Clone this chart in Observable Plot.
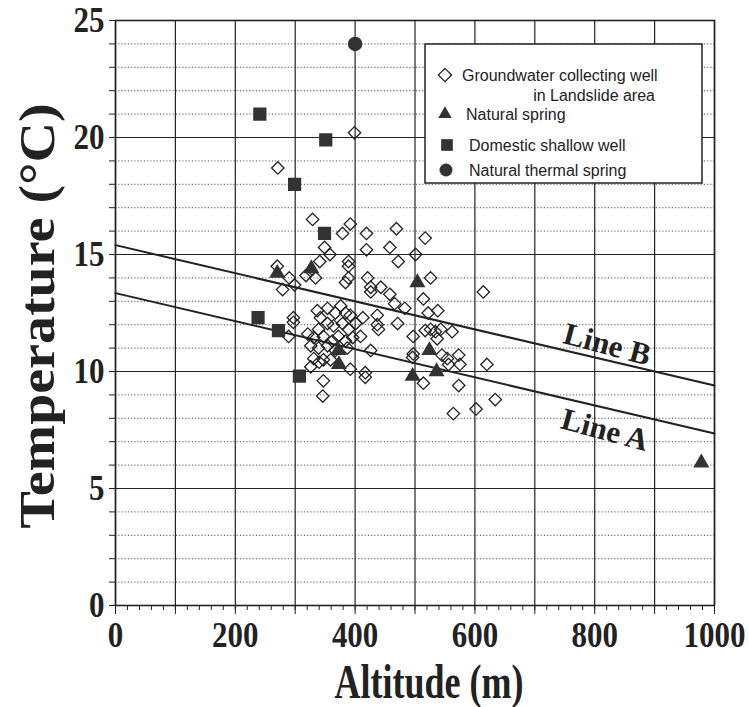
<!DOCTYPE html>
<html>
<head>
<meta charset="utf-8">
<script src="https://cdn.jsdelivr.net/npm/d3@7"></script>
<script src="https://cdn.jsdelivr.net/npm/@observablehq/plot@0.6"></script>
<style>
  html, body { margin: 0; padding: 0; background: white; }
  #chart { width: 749px; height: 707px; }
</style>
</head>
<body>
<div id="chart"></div>
<script>
// ---- Data (altitude in m, temperature in °C) ----
const wellAlt = [399,271,329,392,379,419,469,517,349,358,419,458,472,501,341,389,389,270,326,290,318,334,279,299,389,384,421,426,426,443,458,466,483,514,522,538,526,614,297,297,289,
  337,342,354,367,376,384,392,339,354,364,379,389,401,413,321,331,347,362,372,384,396,409,326,339,354,367,387,426,331,347,359,392,417,417,347,346,
  437,437,439,471,497,517,526,534,543,562,537,496,497,545,554,573,556,575,620,514,573,634,602,564,326,340];
const wellTemp = [20.2,18.7,16.5,16.3,15.9,15.9,16.1,15.7,15.3,15.0,15.2,15.3,14.7,15.0,14.7,14.7,14.5,14.5,14.3,14.0,14.1,14.0,13.5,13.7,14.0,13.8,14.0,13.6,13.4,13.6,13.3,12.9,12.7,13.1,12.5,12.6,14.0,13.4,12.3,12.1,11.5,
  12.6,12.3,12.7,12.5,12.8,12.5,12.4,11.8,12.05,11.95,12.05,11.8,12.05,12.3,11.6,11.45,11.5,11.3,11.5,11.3,11.45,11.5,11.1,11.0,11.1,10.9,11.0,10.9,10.55,10.5,10.5,10.1,9.95,9.75,9.6,8.95,
  12.4,12.0,11.8,12.05,11.5,11.75,11.8,11.7,11.8,11.7,11.4,10.6,10.75,10.7,10.55,10.7,10.3,10.3,10.3,9.5,9.4,8.8,8.4,8.2,10.2,10.4];

const springAlt  = [270,327,372,373,504,524,496,536,978];
const springTemp = [14.2,14.4,10.9,10.3,13.8,10.9,9.8,10.0,6.1];

const shallowAlt  = [241,351,299,349,238,272,307];
const shallowTemp = [21.0,19.9,18.0,15.9,12.3,11.75,9.8];

const thermalAlt  = [400];
const thermalTemp = [24.0];

const lineX  = [0, 1000];
const lineAY = [13.35, 7.35];
const lineBY = [15.4, 9.4];

const lineLabels = ["Line B", "Line A"];
const lineLabelX = [821, 817];
const lineLabelY = [11.15, 7.5];

const xTicks = [0, 200, 400, 600, 800, 1000];
const yTicks = [0, 5, 10, 15, 20, 25];

const xTitle = "Altitude (m)";
const yTitle = "Temperature (°C)";
const legendLabels = ["Groundwater collecting well", "in Landslide area", "Natural spring", "Domestic shallow well", "Natural thermal spring"];

// ---- Chart ----
const serif = "'Liberation Serif', 'DejaVu Serif', serif";
const ink = "#222";
const xGrid = d3.range(0, 1001, 100);
const xMinor = d3.range(0, 1001, 20);
const yMinor = d3.range(0, 26, 1);

const chart = Plot.plot({
  width: 749,
  height: 707,
  marginLeft: 115,
  marginRight: 35,
  marginTop: 20,
  marginBottom: 102,
  x: { domain: [0, 1000] },
  y: { domain: [0, 25] },
  style: { background: "white", color: ink },
  marks: [
    Plot.gridY(yMinor, { stroke: "#555", strokeOpacity: 1, strokeWidth: 1, strokeDasharray: "1.2,2" }),
    Plot.gridY(yTicks, { stroke: ink, strokeOpacity: 1, strokeWidth: 1.2 }),
    Plot.gridX(xGrid, { stroke: ink, strokeOpacity: 1, strokeWidth: 1.2 }),
    Plot.frame({ stroke: ink, strokeWidth: 1.6 }),
    Plot.axisY(yMinor, { tickSize: 6, tickFormat: () => "", label: null, stroke: ink }),
    Plot.axisY(yTicks, { tickSize: 6, tickPadding: 5, label: null, tickFormat: d => String(d), fontSize: 36, fontWeight: "bold", fontFamily: serif, fill: ink, stroke: ink }),
    Plot.axisX(xMinor, { tickSize: 5, tickFormat: () => "", label: null, stroke: ink }),
    Plot.axisX(xGrid, { tickSize: 9, tickFormat: () => "", label: null, stroke: ink }),
    Plot.axisX(xTicks, { tickSize: 0, tickPadding: 16, label: null, tickFormat: d => String(d), fontSize: 36, fontWeight: "bold", fontFamily: serif, fill: ink }),
    Plot.line(lineX, { x: lineX, y: lineAY, stroke: ink, strokeWidth: 2 }),
    Plot.line(lineX, { x: lineX, y: lineBY, stroke: ink, strokeWidth: 2 }),
    Plot.text(lineLabels, { x: lineLabelX, y: lineLabelY, text: d => d, rotate: 15, fontSize: 31, fontWeight: "bold", fontFamily: serif, fill: ink }),
    Plot.dot(wellAlt, { x: wellAlt, y: wellTemp, symbol: "diamond2", r: 5.6, stroke: ink, strokeWidth: 1.3, fill: "none" }),
    Plot.dot(springAlt, { x: springAlt, y: springTemp, symbol: "triangle", r: 5, fill: "#333", stroke: "#333" }),
    Plot.dot(shallowAlt, { x: shallowAlt, y: shallowTemp, symbol: "square", r: 6.6, fill: "#333", stroke: "#333" }),
    Plot.dot(thermalAlt, { x: thermalAlt, y: thermalTemp, symbol: "circle", r: 6.5, fill: "#333", stroke: "#333" }),
    Plot.text([xTitle], { frameAnchor: "bottom", dx: 14, dy: 92, fontSize: 48, fontWeight: "bold", fontFamily: serif, fill: ink }),
    Plot.text([yTitle], { frameAnchor: "left", textAnchor: "middle", dx: -78, dy: 3, rotate: -90, fontSize: 56, fontWeight: "bold", fontFamily: serif, fill: ink })
  ]
});

document.getElementById("chart").appendChild(chart);

// Condense the scanned-looking serif text, like the reference (wrap in a scaled group)
function condense(el, sx, sy, anchor) {
  const g = document.createElementNS("http://www.w3.org/2000/svg", "g");
  el.parentNode.insertBefore(g, el);
  g.appendChild(el);
  const bb = g.getBBox();
  const ax = anchor === "right" ? bb.x + bb.width : bb.x + bb.width / 2;
  const ay = bb.y + bb.height / 2;
  g.setAttribute("transform", `translate(${ax},${ay}) scale(${sx},${sy}) translate(${-ax},${-ay})`);
}
const svg = d3.select(chart);
const tickStrings = new Set([...xTicks, ...yTicks].map(String));
const allTexts = svg.selectAll("text").nodes();
allTexts.forEach(el => {
  const s = el.textContent;
  if (s === xTitle) condense(el, 0.75, 1);
  else if (s === yTitle) condense(el, 0.9, 1);
  else if (tickStrings.has(s)) {
    const isY = el.closest("g").getAttribute("aria-label") === "y-axis tick label";
    condense(el, 0.86, 1, isY ? "right" : "center");
  }
});

// ---- Legend box drawn inside the SVG ----
const lg = svg.append("g").attr("font-family", "'Liberation Sans', Arial, sans-serif").attr("font-size", 16).attr("fill", ink);
lg.append("rect").attr("x", 425).attr("y", 44).attr("width", 277).attr("height", 139)
  .attr("fill", "white").attr("stroke", ink).attr("stroke-width", 1.5);
const sym = (type, size) => d3.symbol(type, size)();
lg.append("path").attr("d", sym(d3.symbolDiamond2, Math.PI * 36)).attr("transform", "translate(445,75)")
  .attr("fill", "none").attr("stroke", ink).attr("stroke-width", 1.3);
lg.append("path").attr("d", sym(d3.symbolTriangle, Math.PI * 25)).attr("transform", "translate(445,114)").attr("fill", "#333");
lg.append("path").attr("d", sym(d3.symbolSquare, Math.PI * 6.6 * 6.6)).attr("transform", "translate(447,145)").attr("fill", "#333");
lg.append("circle").attr("cx", 446).attr("cy", 170).attr("r", 6.5).attr("fill", "#333");
const rows = [[462, 75, "start"], [655, 95, "end"], [466, 114, "start"], [469, 145, "start"], [469, 170, "start"]];
rows.forEach(([x, y, anchor], i) => {
  lg.append("text").attr("x", x).attr("y", y).attr("dy", "0.35em").attr("text-anchor", anchor).text(legendLabels[i]);
});
</script>
</body>
</html>
